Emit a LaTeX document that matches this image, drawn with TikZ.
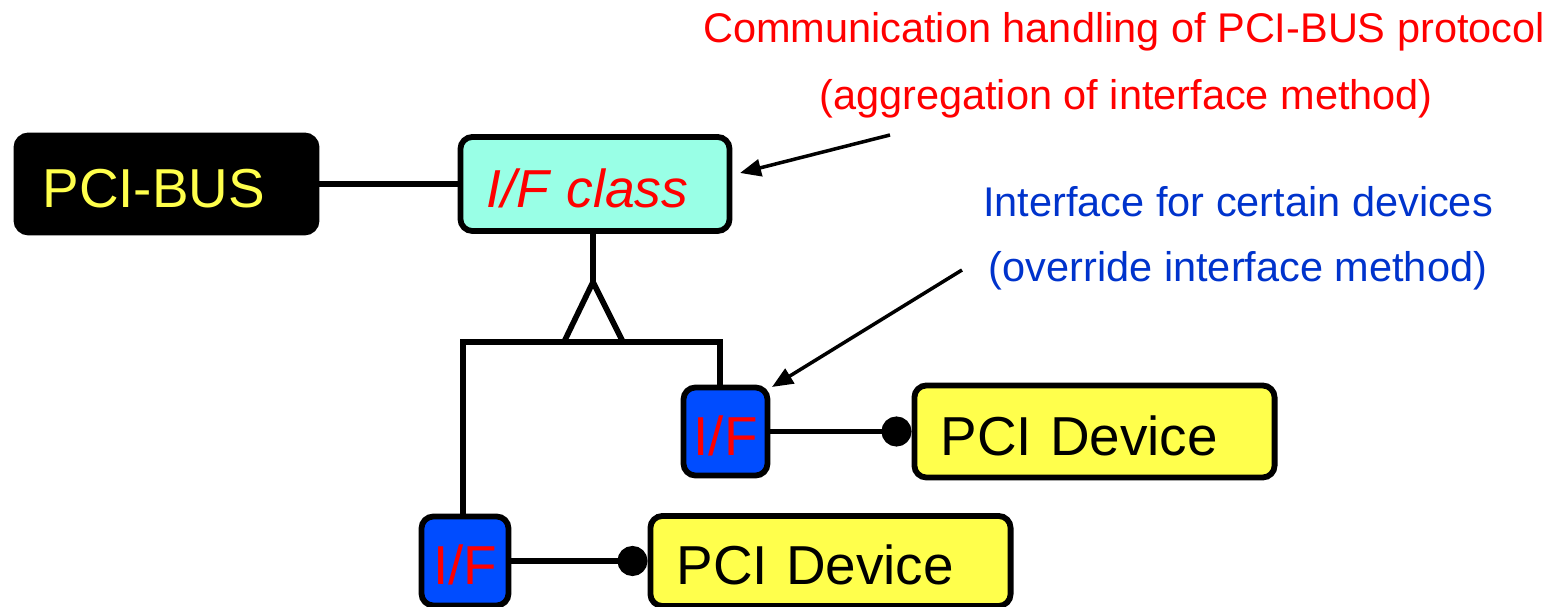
\documentclass[tikz,border=0pt]{standalone}
\usepackage{fontspec}
\setmainfont{Liberation Sans}
\usetikzlibrary{arrows.meta}
\definecolor{aquafill}{HTML}{99FFE6}
\definecolor{ifblue}{HTML}{004CFF}
\definecolor{devyellow}{HTML}{FFFF4C}
\definecolor{txtblue}{HTML}{0033CC}
\newcommand\BigF{\fontsize{15.6pt}{18pt}\selectfont}
\newcommand\BigIF{\fontsize{15.2pt}{18pt}\selectfont\itshape}
\newcommand\SmallF{\fontsize{11.8pt}{14pt}\selectfont}
\begin{document}
\begin{tikzpicture}[x=0.01cm,y=-0.01cm,
  box/.style={draw=black, line width=1.65pt, rounded corners=0.12cm},
  bigtxt/.style={font=\BigF, text height=0.47cm, text depth=0pt},
  lefttxt/.style={align=left, inner xsep=0.26cm, inner ysep=0pt},
  conn/.style={line width=1.6pt},
  note/.style={line width=1pt, -{Triangle[length=0.21cm,width=0.17cm]}},
  dot/.style={-{Circle[length=0.3cm,width=0.3cm]}},
  smalltxt/.style={font=\SmallF, anchor=base, inner sep=0pt}]
\useasboundingbox (0,0) rectangle (1551,607);
\clip (0,0) rectangle (1551,607);
% boxes
\node[box, fill=black, bigtxt, lefttxt, text=devyellow, text width=2.48cm, minimum height=0.97cm] (bus) at (166.5,184) {PCI-BUS};
\node[box, fill=aquafill, bigtxt, font=\BigIF, lefttxt, text=red, text width=2.17cm, minimum height=0.94cm] (cls) at (595,184) {I/F class};
\node[box, fill=ifblue, bigtxt, text=red, inner sep=0pt, minimum width=0.84cm, minimum height=0.88cm] (if1) at (725.5,431.5) {I/F};
\node[box, fill=ifblue, bigtxt, text=red, inner sep=0pt, minimum width=0.87cm, minimum height=0.89cm] (if2) at (465,561) {I/F};
\node[box, fill=devyellow, bigtxt, lefttxt, text width=3.08cm, minimum height=0.92cm] (dev1) at (1094.5,431.5) {PCI Device};
\node[box, fill=devyellow, bigtxt, lefttxt, text width=3.08cm, minimum height=0.90cm] (dev2) at (830.5,561) {PCI Device};
% connectors
\draw[conn] (bus.east) -- (cls.west);
\coordinate (apex) at (593,282);
\coordinate (tl) at (564,342);
\coordinate (tr) at (623,342);
\coordinate (jl) at (463,342);
\coordinate (jr) at (720,342);
\draw[conn] (cls.south -| apex) -- (apex);
\draw[conn] (tl) -- (apex) -- (tr);
\draw[conn] (jl |- if2.north) -- (jl) -- (jr) -- (jr |- if1.north);
\draw[conn, dot] (if1.east) -- (dev1.west);
\draw[conn, dot] (if2.east) -- (dev2.west);
% annotations
\node[smalltxt, text=red] (t1) at (1124,43) {Communication handling of PCI-BUS protocol};
\node[smalltxt, text=red] (t2) at (1126,110) {(aggregation of interface method)};
\node[smalltxt, text=txtblue] (t3) at (1238,217) {Interface for certain devices};
\node[smalltxt, text=txtblue] (t4) at (1238,282) {(override interface method)};
\coordinate (a1s) at (890,135);
\coordinate (a1e) at (740,173);
\draw[note] (a1s) -- (a1e);
\coordinate (a2s) at (962,270);
\coordinate (a2e) at (772,387);
\draw[note] (a2s) -- (a2e);
\end{tikzpicture}
\end{document}
